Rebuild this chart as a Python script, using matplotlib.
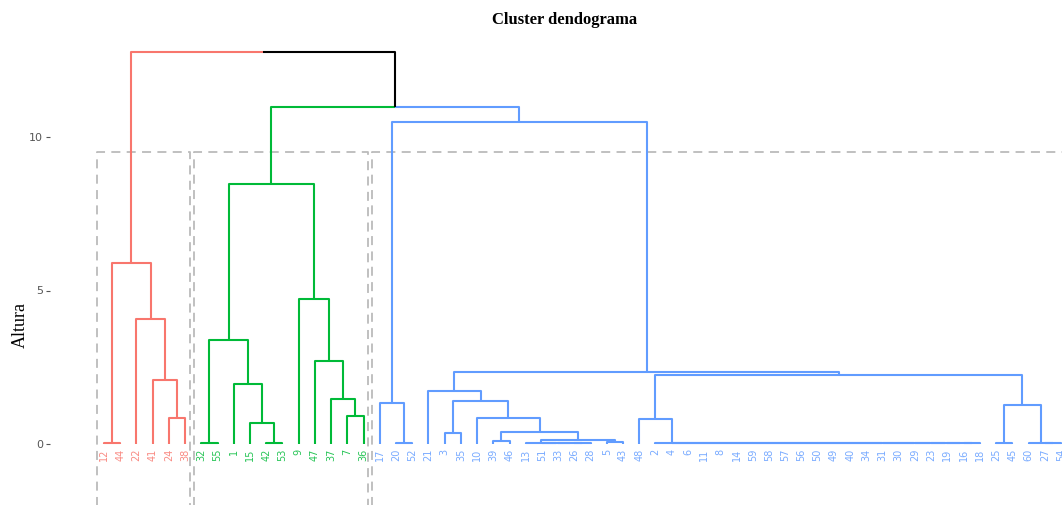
import matplotlib
matplotlib.use("Agg")
import matplotlib.pyplot as plt

# leaf order (left to right) and the cluster of each block of leaves
leaf_order = [12, 44, 22, 41, 24, 38,
              32, 55, 1, 15, 42, 53, 9, 47, 37, 7, 36,
              17, 20, 52, 21, 3, 35, 10, 39, 46, 13, 51, 33, 26, 28, 5, 43, 48,
              2, 4, 6, 11, 8, 14, 59, 58, 57, 56, 50, 49, 40, 34, 31, 30, 29,
              23, 19, 16, 18, 25, 45, 60, 27, 54]
group_sizes = [6, 11, 43]
group_colors = ["#F8766D", "#00BA38", "#619CFF"]

# hclust-style merge table: negative = observation, positive = merge step
merge_a = [-12, -24, -41, -22, 1,
           -32, -42, -15, -1, 6, -7, -37, -47, -9, 10,
           -20, -17, -3, -39, -26, -33, -51, -13, -5, 23, 19, -10, 18, -21,
           -16, -19, -23, -29, -30, -31, -34, -40, -49, -50, -56, -57, -58, -59,
           -14, -8, -11, -6, -4, -2,
           -48, -25, -27, -60, 51, 50, 29, 17, 15, 5]
merge_b = [-44, -38, 2, 3, 4,
           -55, -53, 7, 8, 9, -36, 11, 12, 13, 14,
           -52, 16, -35, -46, -28, 20, 21, 22, -43, 24, 25, 26, 27, 28,
           -18, 30, 31, 32, 33, 34, 35, 36, 37, 38, 39, 40, 41, 42,
           43, 44, 45, 46, 47, 48,
           49, -45, -54, 52, 53, 54, 55, 56, 57, 58]
merge_h = [0.02, 0.84, 2.08, 4.07, 5.90,
           0.02, 0.02, 0.70, 1.95, 3.39, 0.92, 1.47, 2.70, 4.72, 8.48,
           0.02, 1.32, 0.35, 0.11, 0.02, 0.02, 0.02, 0.02, 0.05, 0.13, 0.40, 0.84, 1.41, 1.74,
           0.02, 0.02, 0.02, 0.02, 0.02, 0.02, 0.02, 0.02, 0.02, 0.02, 0.02, 0.02, 0.02, 0.02,
           0.02, 0.02, 0.02, 0.02, 0.02, 0.02,
           0.80, 0.02, 0.02, 0.02, 1.27, 2.25, 2.36, 10.50, 10.98, 12.76]
cut_height = 9.5

# leaf positions and cluster membership
leaf_x = {lab: i + 1 for i, lab in enumerate(leaf_order)}
leaf_grp = {}
start = 0
for g, n in enumerate(group_sizes):
    for lab in leaf_order[start:start + n]:
        leaf_grp[lab] = g
    start += n

node_x, node_h, node_g = {}, {}, {}


def info(ref):
    if ref < 0:
        lab = -ref
        return leaf_x[lab], 0.0, leaf_grp[lab]
    return node_x[ref], node_h[ref], node_g[ref]


W, H = 1062, 505
fig = plt.figure(figsize=(W / 100, H / 100), dpi=100)
px0, py0 = 104, 444            # pixel of leaf 1 and of height 0
dx, dy = 16.22, 30.7
ax = fig.add_axes([50 / W, 0, 1 - 50 / W, 465 / H])
ax.set_xlim(1 + (50 - px0) / dx, 1 + (W - px0) / dx)
ax.set_ylim(-(H - py0) / dy, (py0 - 40) / dy)

lw = 1.5
for k, (a, b, h) in enumerate(zip(merge_a, merge_b, merge_h), start=1):
    xa, ha, ga = info(a)
    xb, hb, gb = info(b)
    xm = (xa + xb) / 2
    ca = "black" if ga is None else group_colors[ga]
    cb = "black" if gb is None else group_colors[gb]
    ax.plot([xa, xa, xm], [ha, h, h], color=ca, lw=lw, solid_capstyle="butt")
    ax.plot([xm, xb, xb], [h, h, hb], color=cb, lw=lw, solid_capstyle="butt")
    node_x[k], node_h[k] = xm, h
    node_g[k] = ga if (ga == gb and ga is not None) else None

# leaf labels
for lab in leaf_order:
    ax.text(leaf_x[lab], -0.16, str(lab), rotation=90, ha="center", va="top",
            fontsize=7, color=group_colors[leaf_grp[lab]], alpha=0.85)

# dashed cluster rectangles
start = 1
for n in group_sizes:
    x0, x1 = start - 0.45, start + n - 1 + 0.3
    ax.plot([x0, x0, x1, x1], [-3, cut_height, cut_height, -3], color="#BBBBBB",
            lw=1.3, ls=(0, (5, 3.5)), zorder=0)
    start += n

for s in ax.spines.values():
    s.set_visible(False)
ax.set_xticks([])
ax.set_yticks([0, 5, 10])
ax.tick_params(axis="y", length=3, width=0.8, colors="#555555", labelsize=8, pad=2)
fig.text(20 / W, 1 - 325 / H, "Altura", family="Liberation Serif", fontsize=13,
         rotation=90, ha="center", va="center")
fig.text(565 / W, 1 - 20 / H, "Cluster dendograma", family="Liberation Serif",
         fontweight="bold", fontsize=12, ha="center", va="center")

fig.savefig("out.png", dpi=100)
